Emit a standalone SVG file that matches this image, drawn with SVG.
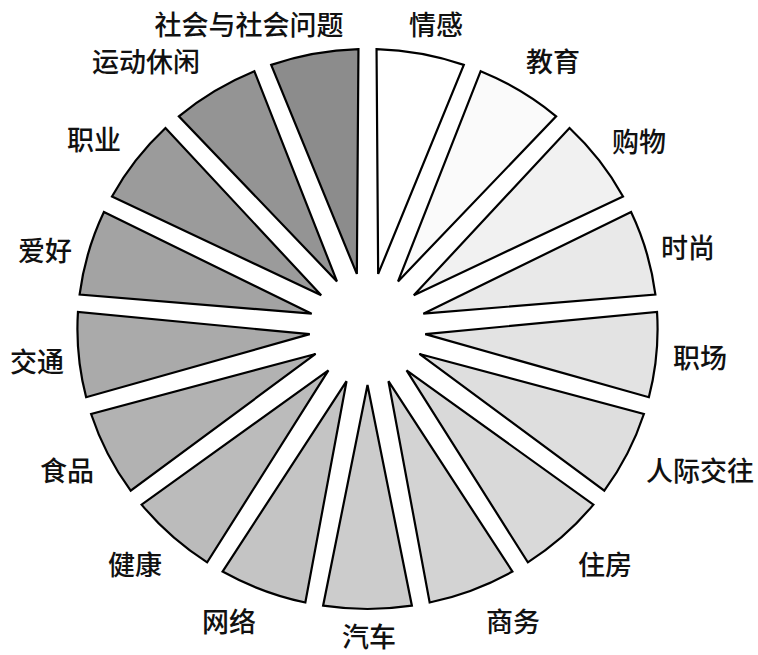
<svg xmlns="http://www.w3.org/2000/svg" xmlns:xlink="http://www.w3.org/1999/xlink" width="758" height="655" viewBox="0 0 758 655">
<style>
.w{stroke:#000;stroke-width:2.2;stroke-linejoin:miter}
.t{font-family:"Noto Sans CJK SC","Noto Sans",sans-serif;font-size:27px;font-weight:500;fill:#111;text-anchor:middle}
</style>
<defs>
<path id="wedge" d="M0,-56 L42.84,-276.7 A280,280 0 0 0 -42.84,-276.7 Z" vector-effect="non-scaling-stroke"/>
</defs>
<rect width="758" height="655" fill="#fff"/>
<g id="n0"><use href="#wedge" class="w" fill="#ffffff" transform="translate(367.5 329) scale(1.036 1) rotate(10.588)"/><text class="t" x="436" y="35">情感</text></g>
<g id="n1"><use href="#wedge" class="w" fill="#fafafa" transform="translate(367.5 329) scale(1.036 1) rotate(31.765)"/><text class="t" x="553" y="72">教育</text></g>
<g id="n2"><use href="#wedge" class="w" fill="#f1f1f1" transform="translate(367.5 329) scale(1.036 1) rotate(52.941)"/><text class="t" x="639" y="152">购物</text></g>
<g id="n3"><use href="#wedge" class="w" fill="#e9e9e9" transform="translate(367.5 329) scale(1.036 1) rotate(74.118)"/><text class="t" x="688" y="258">时尚</text></g>
<g id="n4"><use href="#wedge" class="w" fill="#e3e3e3" transform="translate(367.5 329) scale(1.036 1) rotate(95.294)"/><text class="t" x="700" y="368">职场</text></g>
<g id="n5"><use href="#wedge" class="w" fill="#dedede" transform="translate(367.5 329) scale(1.036 1) rotate(116.471)"/><text class="t" x="700" y="481">人际交往</text></g>
<g id="n6"><use href="#wedge" class="w" fill="#d9d9d9" transform="translate(367.5 329) scale(1.036 1) rotate(137.647)"/><text class="t" x="605" y="575">住房</text></g>
<g id="n7"><use href="#wedge" class="w" fill="#d3d3d3" transform="translate(367.5 329) scale(1.036 1) rotate(158.824)"/><text class="t" x="513" y="632">商务</text></g>
<g id="n8"><use href="#wedge" class="w" fill="#cccccc" transform="translate(367.5 329) scale(1.036 1) rotate(180)"/><text class="t" x="369" y="647">汽车</text></g>
<g id="n9"><use href="#wedge" class="w" fill="#c4c4c4" transform="translate(367.5 329) scale(1.036 1) rotate(201.176)"/><text class="t" x="229" y="632">网络</text></g>
<g id="n10"><use href="#wedge" class="w" fill="#bbbbbb" transform="translate(367.5 329) scale(1.036 1) rotate(222.353)"/><text class="t" x="135" y="575">健康</text></g>
<g id="n11"><use href="#wedge" class="w" fill="#b2b2b2" transform="translate(367.5 329) scale(1.036 1) rotate(243.529)"/><text class="t" x="67" y="481">食品</text></g>
<g id="n12"><use href="#wedge" class="w" fill="#aaaaaa" transform="translate(367.5 329) scale(1.036 1) rotate(264.706)"/><text class="t" x="37" y="372">交通</text></g>
<g id="n13"><use href="#wedge" class="w" fill="#a3a3a3" transform="translate(367.5 329) scale(1.036 1) rotate(285.882)"/><text class="t" x="45" y="261">爱好</text></g>
<g id="n14"><use href="#wedge" class="w" fill="#9b9b9b" transform="translate(367.5 329) scale(1.036 1) rotate(307.059)"/><text class="t" x="94" y="150">职业</text></g>
<g id="n15"><use href="#wedge" class="w" fill="#949494" transform="translate(367.5 329) scale(1.036 1) rotate(328.235)"/><text class="t" x="146" y="72">运动休闲</text></g>
<g id="n16"><use href="#wedge" class="w" fill="#8c8c8c" transform="translate(367.5 329) scale(1.036 1) rotate(349.412)"/><text class="t" x="249" y="35">社会与社会问题</text></g>
<g id="connectors"/>
</svg>
